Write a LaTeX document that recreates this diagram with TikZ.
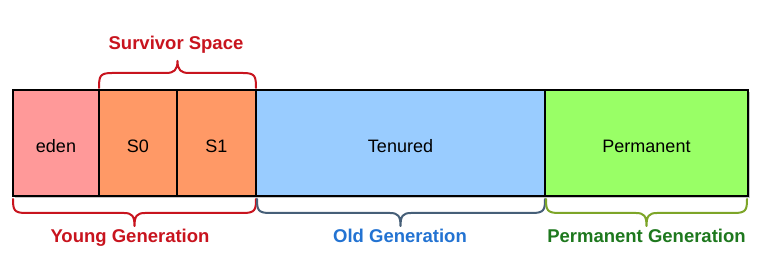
\documentclass[tikz,border=0pt]{standalone}
\usepackage{fontspec}
\setmainfont{Liberation Sans}
\usetikzlibrary{calc}
\definecolor{edenc}{RGB}{255,153,153}
\definecolor{survc}{RGB}{255,153,102}
\definecolor{tenc}{RGB}{153,204,255}
\definecolor{permc}{RGB}{153,255,102}
\definecolor{youngred}{RGB}{200,20,30}
\definecolor{oldblue}{RGB}{35,115,210}
\definecolor{oldbrace}{RGB}{70,95,120}
\definecolor{permgreen}{RGB}{30,120,30}
\definecolor{permbrace}{RGB}{125,165,40}
\begin{document}
\begin{tikzpicture}[x=1pt,y=-1pt,
  cell/.style={draw=black, line width=2pt, minimum height=106pt, inner sep=0pt,
    text height=19pt, text depth=0pt, font=\fontsize{18}{20}\selectfont},
  tag/.style={anchor=base, font=\bfseries\fontsize{18.5}{20}\selectfont},
  bracepath/.style={line width=2pt, line cap=round, line join=round}]
\useasboundingbox (0,0) rectangle (777,261);
% shadow
\fill[gray!45] (15,92) rectangle (750,198.5);
% cells
\node[cell, fill=edenc, minimum width=86pt] (eden) at (56,143) {eden};
\node[cell, fill=survc, minimum width=78pt] (s0) at (138,143) {S0};
\node[cell, fill=survc, minimum width=79pt] (s1) at (216.5,143) {S1};
\node[cell, fill=tenc, minimum width=289pt] (ten) at (400.5,143) {Tenured};
\node[cell, fill=permc, minimum width=203pt] (perm) at (646.5,143) {Permanent};
% labels
\node[tag, text=youngred] (surv) at (176,50) {Survivor Space};
\node[tag, text=youngred] (young) at (130,243) {Young Generation};
\node[tag, text=oldblue] (old) at (400,243) {Old Generation};
\node[tag, text=permgreen] (permgen) at (646.5,243) {Permanent Generation};
% top brace
\draw[bracepath, youngred]
  (99,88) .. controls (99,76) and (100,73) .. (112,73) -- (166,73)
  .. controls (174,73) and (177.5,70) .. (177.5,61)
  .. controls (177.5,70) and (181,73) .. (189,73) -- (243,73)
  .. controls (255,73) and (256,76) .. (256,88);
% bottom braces
\draw[bracepath, youngred]
  (13,199) .. controls (13,210) and (14,213) .. (26,213) -- (124,213)
  .. controls (132,213) and (134.5,216) .. (134.5,226)
  .. controls (134.5,216) and (137,213) .. (145,213) -- (243,213)
  .. controls (255,213) and (256,210) .. (256,199);
\draw[bracepath, oldbrace]
  (257,199) .. controls (257,210) and (258,213) .. (270,213) -- (390,213)
  .. controls (398,213) and (400.5,216) .. (400.5,226)
  .. controls (400.5,216) and (403,213) .. (411,213) -- (532,213)
  .. controls (544,213) and (545,210) .. (545,199);
\draw[bracepath, permbrace]
  (546,199) .. controls (546,210) and (547,213) .. (559,213) -- (636,213)
  .. controls (644,213) and (646.5,216) .. (646.5,226)
  .. controls (646.5,216) and (649,213) .. (657,213) -- (734,213)
  .. controls (746,213) and (747,210) .. (747,199);
\end{tikzpicture}
\end{document}
